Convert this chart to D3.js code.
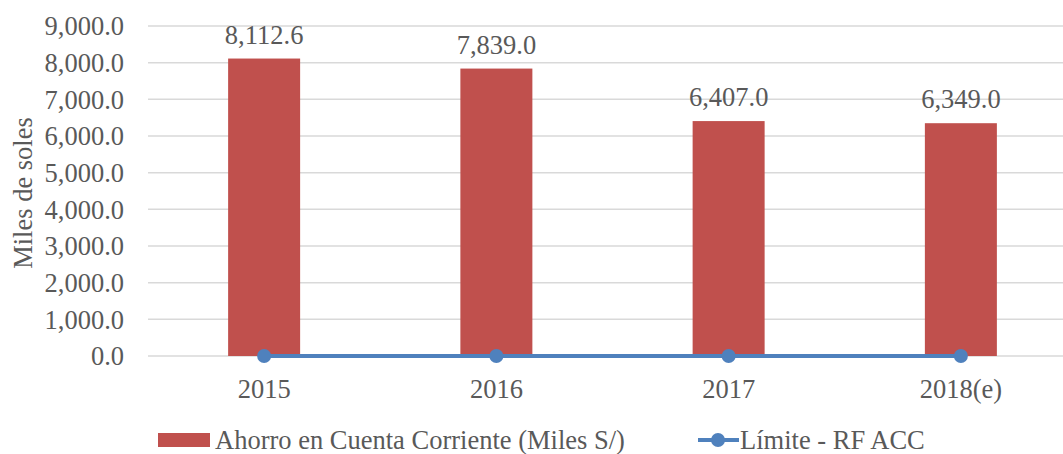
<!DOCTYPE html>
<html>
<head>
<meta charset="utf-8">
<script src="https://cdn.jsdelivr.net/npm/d3@7"></script>
<style>
  body { margin: 0; background: #fff; }
  svg text { font-family: 'Liberation Serif', 'DejaVu Serif', serif; fill: #595959; }
</style>
</head>
<body>
<svg id="chart" width="1063" height="454"></svg>
<script>
// Data
const categories = ['2015', '2016', '2017', '2018(e)'];
const ahorro = [8112.6, 7839.0, 6407.0, 6349.0];
const limite = [0, 0, 0, 0];
const yTicks = [0, 1000, 2000, 3000, 4000, 5000, 6000, 7000, 8000, 9000];

const svg = d3.select('#chart');
const fontSize = '26.5px';

// Plot area
const plotLeft = 148, plotRight = 1077, plotTop = 26, plotBottom = 356;

const x = d3.scaleBand()
  .domain(categories)
  .range([plotLeft, plotRight]);

const y = d3.scaleLinear()
  .domain([0, 9000])
  .range([plotBottom, plotTop]);

const fmt = d3.format(',.1f');
const cx = d => x(d) + x.bandwidth() / 2;

// Grid lines
svg.append('g')
  .selectAll('line')
  .data(yTicks)
  .enter()
  .append('line')
  .attr('x1', plotLeft)
  .attr('x2', plotRight)
  .attr('y1', d => y(d))
  .attr('y2', d => y(d))
  .attr('stroke', '#d9d9d9')
  .attr('stroke-width', 1.5);

// Y tick labels
svg.append('g')
  .selectAll('text')
  .data(yTicks)
  .enter()
  .append('text')
  .attr('x', 124)
  .attr('y', d => y(d))
  .attr('dy', '0.35em')
  .attr('text-anchor', 'end')
  .style('font-size', fontSize)
  .text(d => fmt(d));

// Y axis title
svg.append('text')
  .attr('transform', `translate(32, ${(plotTop + plotBottom) / 2 + 2}) rotate(-90)`)
  .attr('text-anchor', 'middle')
  .style('font-size', fontSize)
  .text('Miles de soles');

// Bars
const barW = 72;
svg.append('g')
  .selectAll('rect')
  .data(ahorro)
  .enter()
  .append('rect')
  .attr('x', (d, i) => cx(categories[i]) - barW / 2)
  .attr('y', d => y(d))
  .attr('width', barW)
  .attr('height', d => y(0) - y(d))
  .attr('fill', '#c0504d');

// Bar labels
svg.append('g')
  .selectAll('text')
  .data(ahorro)
  .enter()
  .append('text')
  .attr('x', (d, i) => cx(categories[i]))
  .attr('y', d => y(d) - 15)
  .attr('text-anchor', 'middle')
  .style('font-size', fontSize)
  .text(d => fmt(d));

// Line series
const line = d3.line()
  .x((d, i) => cx(categories[i]))
  .y(d => y(d));

svg.append('path')
  .datum(limite)
  .attr('d', line)
  .attr('fill', 'none')
  .attr('stroke', '#4f81bd')
  .attr('stroke-width', 4);

svg.append('g')
  .selectAll('circle')
  .data(limite)
  .enter()
  .append('circle')
  .attr('cx', (d, i) => cx(categories[i]))
  .attr('cy', d => y(d))
  .attr('r', 7)
  .attr('fill', '#4f81bd');

// X labels
svg.append('g')
  .selectAll('text')
  .data(categories)
  .enter()
  .append('text')
  .attr('x', d => cx(d))
  .attr('y', 398)
  .attr('text-anchor', 'middle')
  .style('font-size', fontSize)
  .text(d => d);

// Legend
const legend = svg.append('g');
legend.append('rect')
  .attr('x', 158)
  .attr('y', 433)
  .attr('width', 52)
  .attr('height', 14)
  .attr('fill', '#c0504d');
legend.append('text')
  .attr('x', 215)
  .attr('y', 449)
  .style('font-size', fontSize)
  .text('Ahorro en Cuenta Corriente (Miles S/)');

legend.append('line')
  .attr('x1', 698)
  .attr('x2', 739)
  .attr('y1', 440)
  .attr('y2', 440)
  .attr('stroke', '#4f81bd')
  .attr('stroke-width', 4);
legend.append('circle')
  .attr('cx', 718)
  .attr('cy', 440)
  .attr('r', 7)
  .attr('fill', '#4f81bd');
legend.append('text')
  .attr('x', 740)
  .attr('y', 449)
  .style('font-size', fontSize)
  .text('Límite - RF ACC');
</script>
</body>
</html>
